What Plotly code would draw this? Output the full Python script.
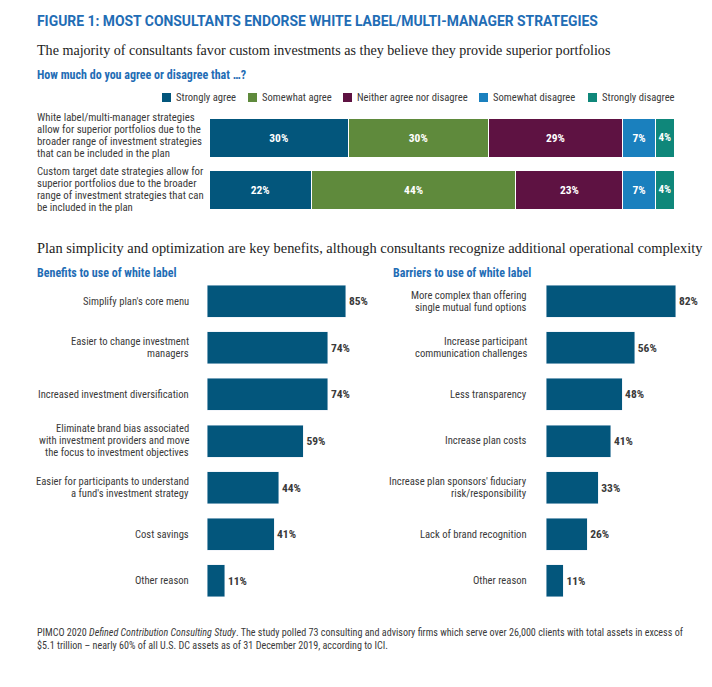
import plotly.graph_objects as go

W, H = 712, 687
OFF = 8  # page body margin of the browser
FW, FH = W - OFF, H - OFF
def px(x): return (x - OFF) / FW
def py(y): return 1 - (y - OFF) / FH

# ---------------- data ----------------
statements = [
    "White label/multi-manager strategies<br>allow for superior portfolios due to the<br>broader range of investment strategies<br>that can be included in the plan",
    "Custom target date strategies allow for<br>superior portfolios due to the broader<br>range of investment strategies that can<br>be included in the plan",
]
responses = ["Strongly agree", "Somewhat agree", "Neither agree nor disagree",
             "Somewhat disagree", "Strongly disagree"]
strongly_agree = [30, 22]
somewhat_agree = [30, 44]
neither = [29, 23]
somewhat_disagree = [7, 7]
strongly_disagree = [4, 4]

benefits = [
    "Simplify plan's core menu",
    "Easier to change investment<br>managers",
    "Increased investment diversification",
    "Eliminate brand bias associated<br>with investment providers and move<br>the focus to investment objectives",
    "Easier for participants to understand<br>a fund's investment strategy",
    "Cost savings",
    "Other reason",
]
benefit_values = [85, 74, 74, 59, 44, 41, 11]

barriers = [
    "More complex than offering<br>single mutual fund options",
    "Increase participant<br>communication challenges",
    "Less transparency",
    "Increase plan costs",
    "Increase plan sponsors' fiduciary<br>risk/responsibility",
    "Lack of brand recognition",
    "Other reason",
]
barrier_values = [82, 56, 48, 41, 33, 26, 11]

# ---------------- style ----------------
COND = "Liberation Sans Narrow, Roboto Condensed, Arial Narrow, Roboto, sans-serif"
BOLDF = "Roboto, Liberation Sans, sans-serif"
SERIF = "Liberation Serif, DejaVu Serif, serif"
BLUE_T = "#1f6db5"
TXT = "#3a3a3a"
BAR = "#03567c"
seg_colors = ["#03567c", "#5f8a3c", "#5e1242", "#1a80be", "#0f877a"]
legend_x = [162, 248, 343, 479, 588]  # left edge of each legend swatch (px)

fig = go.Figure()

series = [strongly_agree, somewhat_agree, neither, somewhat_disagree, strongly_disagree]
for name, vals, col in zip(responses, series, seg_colors):
    fig.add_trace(go.Bar(
        x=vals, y=statements, orientation="h", name=name,
        marker=dict(color=col, line=dict(color="white", width=1)),
        texttemplate="<b>%{x}%</b>", textposition="inside",
        insidetextanchor="middle",
        textfont=dict(family=COND, size=11.5, color="white"),
        xaxis="x", yaxis="y", hoverinfo="skip", showlegend=False,
    ))

fig.add_trace(go.Bar(
    x=benefit_values, y=benefits, orientation="h", marker=dict(color=BAR),
    texttemplate="<b>%{x}%</b>", textposition="outside", cliponaxis=False,
    textfont=dict(family=COND, size=11.5, color=TXT), width=0.686,
    xaxis="x2", yaxis="y2", showlegend=False, hoverinfo="skip",
))
fig.add_trace(go.Bar(
    x=barrier_values, y=barriers, orientation="h", marker=dict(color=BAR),
    texttemplate="<b>%{x}%</b>", textposition="outside", cliponaxis=False,
    textfont=dict(family=COND, size=11.5, color=TXT), width=0.686,
    xaxis="x3", yaxis="y3", showlegend=False, hoverinfo="skip",
))

ax_off = dict(showgrid=False, zeroline=False, showticklabels=False, showline=False, ticks="")

annotations = []
def ann(text, x, y, size, color, family, xanchor="left", yanchor="middle", align="left",
        xref="paper", yref="paper", yshift=0):
    annotations.append(dict(text=text, x=x, y=y, xref=xref, yref=yref, showarrow=False,
                            xanchor=xanchor, yanchor=yanchor, align=align, borderpad=0,
                            yshift=yshift,
                            font=dict(size=size, color=color, family=family)))

def multiline(label, x, yref, xanchor, spacing, size, shift=0):
    lines = label.split("<br>")
    n = len(lines)
    for i, line in enumerate(lines):
        ann(line, x, label, size, TXT, COND, xanchor=xanchor, align=xanchor,
            yref=yref, yshift=((n - 1) / 2 - i) * spacing + shift)

ann("<b>FIGURE 1: MOST CONSULTANTS ENDORSE WHITE LABEL/MULTI-MANAGER STRATEGIES</b>",
    px(36), py(21), 13.9, BLUE_T, BOLDF)
ann("The majority of consultants favor custom investments as they believe they provide superior portfolios",
    px(36), py(50), 14.1, "#222222", SERIF)
ann("<b>How much do you agree or disagree that \u2026?</b>", px(36), py(75), 12, BLUE_T, COND)
ann("Plan simplicity and optimization are key benefits, although consultants recognize additional operational complexity",
    px(36), py(248), 14.4, "#222222", SERIF)
ann("<b>Benefits to use of white label</b>", px(36), py(273), 12, BLUE_T, COND)
ann("<b>Barriers to use of white label</b>", px(392), py(273), 12, BLUE_T, COND)

for k, s in enumerate(statements):
    multiline(s, px(36), "y", "left", 12.2, 10.8, shift=2 if k == 0 else 0)
for b in benefits:
    multiline(b, px(190), "y2", "right", 12.0, 10.6)
for b in barriers:
    multiline(b, px(528), "y3", "right", 12.0, 10.6)

shapes = []
for name, col, lx in zip(responses, seg_colors, legend_x):
    shapes.append(dict(type="rect", xref="paper", yref="paper",
                       x0=px(lx), x1=px(lx + 9), y0=py(102), y1=py(93),
                       fillcolor=col, line=dict(width=0)))
    ann(name, px(lx + 12.5), py(97.5), 10.6, TXT, COND)

ann("PIMCO 2020 <i>Defined Contribution Consulting Study</i>. The study polled 73 consulting and advisory firms which serve over 26,000 clients with total assets in excess of<br>$5.1 trillion \u2013 nearly 60% of all U.S. DC assets as of 31 December 2019, according to ICI.",
    px(36), py(638.5), 10.1, TXT, COND)

fig.update_layout(
    width=FW, height=FH, margin=dict(l=0, r=0, t=0, b=0),
    paper_bgcolor="white", plot_bgcolor="white",
    barmode="stack", bargap=0.25,
    showlegend=False,
    xaxis=dict(domain=[px(209), px(674)], range=[0, 100], anchor="y", **ax_off),
    yaxis=dict(domain=[py(215.5), py(111.5)], autorange="reversed", anchor="x", **ax_off),
    xaxis2=dict(domain=[px(207), px(370.5)], range=[0, 100], anchor="y2", **ax_off),
    yaxis2=dict(domain=[py(604.3), py(277.7)], autorange="reversed", anchor="x2", **ax_off),
    xaxis3=dict(domain=[px(546), px(704.5)], range=[0, 100], anchor="y3", **ax_off),
    yaxis3=dict(domain=[py(604.3), py(277.7)], autorange="reversed", anchor="x3", **ax_off),
    annotations=annotations,
    shapes=shapes,
)

fig.write_html("out.html")
